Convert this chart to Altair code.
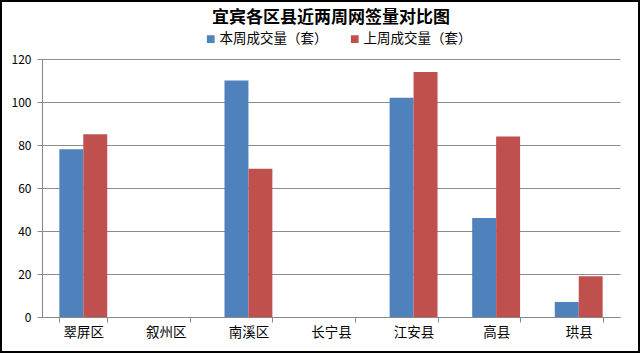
import altair as alt
import pandas as pd

categories = ["翠屏区", "叙州区", "南溪区", "长宁县", "江安县", "高县", "珙县"]
this_week = [78, None, 110, None, 102, 46, 7]
last_week = [85, None, 69, None, 114, 84, 19]
series_names = ["本周成交量（套）", "上周成交量（套）"]
colors = ["#4F81BD", "#C0504D"]
y_ticks = [0, 20, 40, 60, 80, 100, 120]

rows = []
for i, c in enumerate(categories):
    rows.append({"区县": c, "系列": series_names[0], "值": this_week[i]})
    rows.append({"区县": c, "系列": series_names[1], "值": last_week[i]})
df = pd.DataFrame(rows)

FONT = "Noto Sans CJK SC"

bars = alt.Chart(df).mark_bar().encode(
    x=alt.X("区县:N", sort=categories,
            scale=alt.Scale(paddingInner=0.42, paddingOuter=0.21),
            axis=alt.Axis(title=None, labelAngle=0, tickBand="extent",
                          domainColor="#888888", tickColor="#888888",
                          tickSize=5, labelFontSize=13.5, labelColor="#000000",
                          labelPadding=3, labelFont=FONT, grid=False)),
    xOffset=alt.XOffset("系列:N", sort=series_names),
    y=alt.Y("值:Q", scale=alt.Scale(domain=[0, 120], nice=False),
            axis=alt.Axis(title=None, values=y_ticks, grid=True,
                          gridColor="#8c8c8c", domainColor="#888888",
                          tickColor="#888888", tickSize=5, labelFontSize=12,
                          labelColor="#000000", labelPadding=6, labelFont=FONT)),
    color=alt.Color("系列:N", sort=series_names,
                    scale=alt.Scale(domain=series_names, range=colors),
                    legend=alt.Legend(title=None, orient="none", direction="horizontal",
                                      legendX=162, legendY=-27, symbolType="square",
                                      symbolSize=60, symbolStrokeWidth=0,
                                      labelFontSize=13.5, labelFont=FONT, labelLimit=200,
                                      labelColor="#000000", columnPadding=20,
                                      symbolOffset=0, labelOffset=2)),
)

frame = alt.Chart(alt.Data(values=[{}])).mark_rect(
    fill=None, stroke="#000000", strokeWidth=2, clip=False
).encode(
    x=alt.value(-41), x2=alt.value(597), y=alt.value(-58), y2=alt.value(293)
)

chart = alt.layer(bars, frame).properties(
    width=578, height=258,
    autosize=alt.AutoSizeParams(type="none"),
    padding={"left": 42, "top": 59, "right": 20, "bottom": 36},
    title=alt.TitleParams("宜宾各区县近两周网签量对比图", fontSize=17, font=FONT,
                          fontWeight="bold", color="#000000", offset=-27, anchor="middle"),
    background="#ffffff",
).configure_view(stroke=None)

chart.save("out.html", embed_options={"renderer": "svg", "actions": False})
